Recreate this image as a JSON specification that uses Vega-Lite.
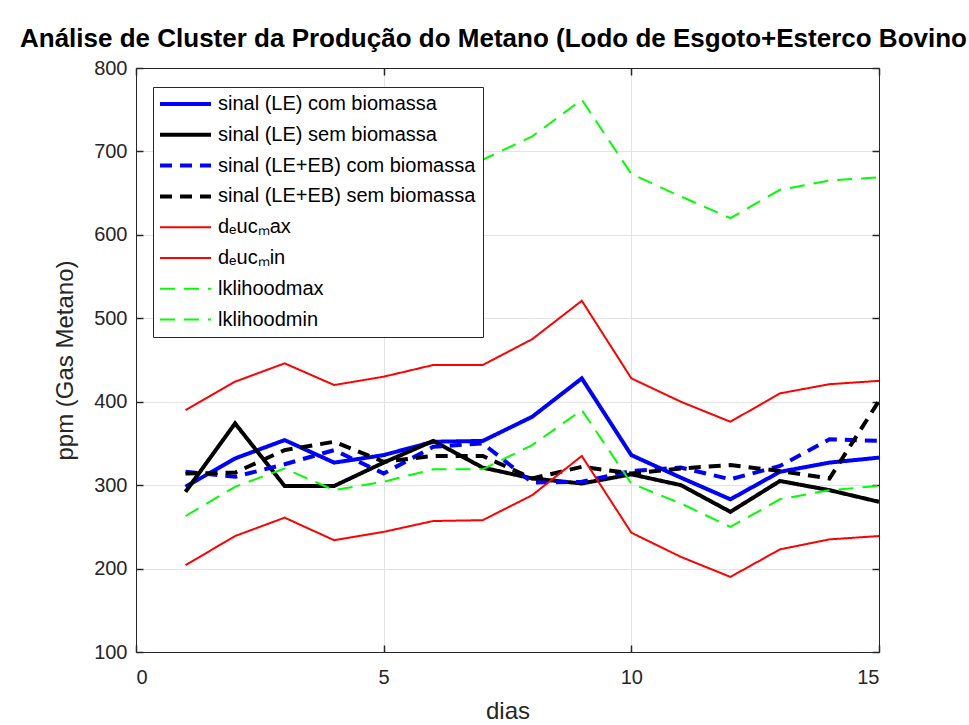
{
  "$schema": "https://vega.github.io/schema/vega-lite/v6.json",
  "width": 743,
  "height": 584,
  "autosize": {"type": "none"},
  "padding": {"left": 136, "top": 68, "right": 90, "bottom": 73},
  "background": "white",
  "title": {"text": "Análise de Cluster da Produção do Metano (Lodo de Esgoto+Esterco Bovino", "fontSize": 26, "font": "Liberation Sans", "fontWeight": "bold", "color": "black", "anchor": "start", "frame": "group", "dx": -116, "baseline": "alphabetic", "offset": 21, "dy": 36},
  "data": {"values": [
    {"dia":1,"serie":"sinal (LE) com biomassa","ppm":298},{"dia":2,"serie":"sinal (LE) com biomassa","ppm":332},{"dia":3,"serie":"sinal (LE) com biomassa","ppm":354},{"dia":4,"serie":"sinal (LE) com biomassa","ppm":327},{"dia":5,"serie":"sinal (LE) com biomassa","ppm":336},{"dia":6,"serie":"sinal (LE) com biomassa","ppm":352},{"dia":7,"serie":"sinal (LE) com biomassa","ppm":353},{"dia":8,"serie":"sinal (LE) com biomassa","ppm":382},{"dia":9,"serie":"sinal (LE) com biomassa","ppm":428},{"dia":10,"serie":"sinal (LE) com biomassa","ppm":336},{"dia":11,"serie":"sinal (LE) com biomassa","ppm":309},{"dia":12,"serie":"sinal (LE) com biomassa","ppm":283},{"dia":13,"serie":"sinal (LE) com biomassa","ppm":316},{"dia":14,"serie":"sinal (LE) com biomassa","ppm":327},{"dia":15,"serie":"sinal (LE) com biomassa","ppm":333},
    {"dia":1,"serie":"sinal (LE) sem biomassa","ppm":292},{"dia":2,"serie":"sinal (LE) sem biomassa","ppm":374},{"dia":3,"serie":"sinal (LE) sem biomassa","ppm":299},{"dia":4,"serie":"sinal (LE) sem biomassa","ppm":299},{"dia":5,"serie":"sinal (LE) sem biomassa","ppm":327},{"dia":6,"serie":"sinal (LE) sem biomassa","ppm":353},{"dia":7,"serie":"sinal (LE) sem biomassa","ppm":321},{"dia":8,"serie":"sinal (LE) sem biomassa","ppm":308},{"dia":9,"serie":"sinal (LE) sem biomassa","ppm":302},{"dia":10,"serie":"sinal (LE) sem biomassa","ppm":313},{"dia":11,"serie":"sinal (LE) sem biomassa","ppm":300},{"dia":12,"serie":"sinal (LE) sem biomassa","ppm":268},{"dia":13,"serie":"sinal (LE) sem biomassa","ppm":305},{"dia":14,"serie":"sinal (LE) sem biomassa","ppm":294},{"dia":15,"serie":"sinal (LE) sem biomassa","ppm":280},
    {"dia":1,"serie":"sinal (LE+EB) com biomassa","ppm":316},{"dia":2,"serie":"sinal (LE+EB) com biomassa","ppm":310},{"dia":3,"serie":"sinal (LE+EB) com biomassa","ppm":325},{"dia":4,"serie":"sinal (LE+EB) com biomassa","ppm":342},{"dia":5,"serie":"sinal (LE+EB) com biomassa","ppm":314},{"dia":6,"serie":"sinal (LE+EB) com biomassa","ppm":346},{"dia":7,"serie":"sinal (LE+EB) com biomassa","ppm":350},{"dia":8,"serie":"sinal (LE+EB) com biomassa","ppm":303},{"dia":9,"serie":"sinal (LE+EB) com biomassa","ppm":304},{"dia":10,"serie":"sinal (LE+EB) com biomassa","ppm":317},{"dia":11,"serie":"sinal (LE+EB) com biomassa","ppm":321},{"dia":12,"serie":"sinal (LE+EB) com biomassa","ppm":307},{"dia":13,"serie":"sinal (LE+EB) com biomassa","ppm":323},{"dia":14,"serie":"sinal (LE+EB) com biomassa","ppm":355},{"dia":15,"serie":"sinal (LE+EB) com biomassa","ppm":353},
    {"dia":1,"serie":"sinal (LE+EB) sem biomassa","ppm":314},{"dia":2,"serie":"sinal (LE+EB) sem biomassa","ppm":315},{"dia":3,"serie":"sinal (LE+EB) sem biomassa","ppm":342},{"dia":4,"serie":"sinal (LE+EB) sem biomassa","ppm":352},{"dia":5,"serie":"sinal (LE+EB) sem biomassa","ppm":328},{"dia":6,"serie":"sinal (LE+EB) sem biomassa","ppm":335},{"dia":7,"serie":"sinal (LE+EB) sem biomassa","ppm":335},{"dia":8,"serie":"sinal (LE+EB) sem biomassa","ppm":308},{"dia":9,"serie":"sinal (LE+EB) sem biomassa","ppm":322},{"dia":10,"serie":"sinal (LE+EB) sem biomassa","ppm":314},{"dia":11,"serie":"sinal (LE+EB) sem biomassa","ppm":320},{"dia":12,"serie":"sinal (LE+EB) sem biomassa","ppm":324},{"dia":13,"serie":"sinal (LE+EB) sem biomassa","ppm":317},{"dia":14,"serie":"sinal (LE+EB) sem biomassa","ppm":308},{"dia":15,"serie":"sinal (LE+EB) sem biomassa","ppm":401},
    {"dia":1,"serie":"dₑucₘax","ppm":390},{"dia":2,"serie":"dₑucₘax","ppm":424},{"dia":3,"serie":"dₑucₘax","ppm":446},{"dia":4,"serie":"dₑucₘax","ppm":420},{"dia":5,"serie":"dₑucₘax","ppm":430},{"dia":6,"serie":"dₑucₘax","ppm":444},{"dia":7,"serie":"dₑucₘax","ppm":444},{"dia":8,"serie":"dₑucₘax","ppm":475},{"dia":9,"serie":"dₑucₘax","ppm":521},{"dia":10,"serie":"dₑucₘax","ppm":428},{"dia":11,"serie":"dₑucₘax","ppm":400},{"dia":12,"serie":"dₑucₘax","ppm":376},{"dia":13,"serie":"dₑucₘax","ppm":410},{"dia":14,"serie":"dₑucₘax","ppm":421},{"dia":15,"serie":"dₑucₘax","ppm":425},
    {"dia":1,"serie":"dₑucₘin","ppm":204},{"dia":2,"serie":"dₑucₘin","ppm":239},{"dia":3,"serie":"dₑucₘin","ppm":261},{"dia":4,"serie":"dₑucₘin","ppm":234},{"dia":5,"serie":"dₑucₘin","ppm":244},{"dia":6,"serie":"dₑucₘin","ppm":257},{"dia":7,"serie":"dₑucₘin","ppm":258},{"dia":8,"serie":"dₑucₘin","ppm":288},{"dia":9,"serie":"dₑucₘin","ppm":335},{"dia":10,"serie":"dₑucₘin","ppm":243},{"dia":11,"serie":"dₑucₘin","ppm":214},{"dia":12,"serie":"dₑucₘin","ppm":190},{"dia":13,"serie":"dₑucₘin","ppm":223},{"dia":14,"serie":"dₑucₘin","ppm":235},{"dia":15,"serie":"dₑucₘin","ppm":239},
    {"dia":1,"serie":"lklihoodmax","ppm":634},{"dia":2,"serie":"lklihoodmax","ppm":668},{"dia":3,"serie":"lklihoodmax","ppm":690},{"dia":4,"serie":"lklihoodmax","ppm":664},{"dia":5,"serie":"lklihoodmax","ppm":675},{"dia":6,"serie":"lklihoodmax","ppm":688},{"dia":7,"serie":"lklihoodmax","ppm":690},{"dia":8,"serie":"lklihoodmax","ppm":718},{"dia":9,"serie":"lklihoodmax","ppm":762},{"dia":10,"serie":"lklihoodmax","ppm":673},{"dia":11,"serie":"lklihoodmax","ppm":646},{"dia":12,"serie":"lklihoodmax","ppm":620},{"dia":13,"serie":"lklihoodmax","ppm":654},{"dia":14,"serie":"lklihoodmax","ppm":665},{"dia":15,"serie":"lklihoodmax","ppm":669},
    {"dia":1,"serie":"lklihoodmin","ppm":263},{"dia":2,"serie":"lklihoodmin","ppm":298},{"dia":3,"serie":"lklihoodmin","ppm":320},{"dia":4,"serie":"lklihoodmin","ppm":294},{"dia":5,"serie":"lklihoodmin","ppm":304},{"dia":6,"serie":"lklihoodmin","ppm":319},{"dia":7,"serie":"lklihoodmin","ppm":319},{"dia":8,"serie":"lklihoodmin","ppm":348},{"dia":9,"serie":"lklihoodmin","ppm":390},{"dia":10,"serie":"lklihoodmin","ppm":302},{"dia":11,"serie":"lklihoodmin","ppm":278},{"dia":12,"serie":"lklihoodmin","ppm":250},{"dia":13,"serie":"lklihoodmin","ppm":283},{"dia":14,"serie":"lklihoodmin","ppm":294},{"dia":15,"serie":"lklihoodmin","ppm":299}
  ]},
  "config": {
    "view": {"stroke": "#262626", "strokeWidth": 1},
    "font": "Liberation Sans",
    "axis": {
      "domainColor": "#262626", "domainWidth": 1,
      "tickColor": "#262626", "tickWidth": 1.5, "tickSize": -7,
      "gridColor": "#e3e3e3", "gridWidth": 1,
      "labelFont": "Liberation Sans", "labelFontSize": 20, "labelColor": "#262626",
      "titleFont": "Liberation Sans", "titleFontSize": 24, "titleFontWeight": "normal", "titleColor": "#262626"
    },
    "legend": {
      "fillColor": "white", "strokeColor": "#262626", "strokeWidth": 1,
      "padding": 7, "rowPadding": 10.8, "clipHeight": 20,
      "symbolType": "stroke", "symbolSize": 2601, "symbolOffset": -2,
      "labelFont": "Liberation Sans", "labelFontSize": 20, "labelColor": "black",
      "labelOffset": 5, "labelLimit": 500
    }
  },
  "encoding": {
    "x": {"field": "dia", "type": "quantitative", "scale": {"domain": [0, 15], "nice": false, "zero": false}},
    "y": {"field": "ppm", "type": "quantitative", "scale": {"domain": [100, 800], "nice": false, "zero": false}},
    "color": {"field": "serie", "type": "nominal",
      "scale": {"domain": ["sinal (LE) com biomassa", "sinal (LE) sem biomassa", "sinal (LE+EB) com biomassa", "sinal (LE+EB) sem biomassa", "dₑucₘax", "dₑucₘin", "lklihoodmax", "lklihoodmin"],
                "range": ["#0000ff", "#000000", "#0000ff", "#000000", "#ff0000", "#ff0000", "#00ff00", "#00ff00"]},
      "legend": {"title": null, "orient": "none", "legendX": 17, "legendY": 19}},
    "strokeDash": {"field": "serie", "type": "nominal",
      "scale": {"domain": ["sinal (LE) com biomassa", "sinal (LE) sem biomassa", "sinal (LE+EB) com biomassa", "sinal (LE+EB) sem biomassa", "dₑucₘax", "dₑucₘin", "lklihoodmax", "lklihoodmin"],
                "range": [[1, 0], [1, 0], [12, 8], [12, 8], [1, 0], [1, 0], [15, 9], [15, 9]]},
      "legend": {"title": null, "orient": "none", "legendX": 17, "legendY": 19}},
    "strokeWidth": {"field": "serie", "type": "nominal",
      "scale": {"type": "ordinal", "domain": ["sinal (LE) com biomassa", "sinal (LE) sem biomassa", "sinal (LE+EB) com biomassa", "sinal (LE+EB) sem biomassa", "dₑucₘax", "dₑucₘin", "lklihoodmax", "lklihoodmin"],
                "range": [4, 4, 4, 4, 2, 2, 2, 2]},
      "legend": {"title": null, "orient": "none", "legendX": 17, "legendY": 19}}
  },
  "layer": [
    {
      "transform": [{"filter": {"field": "serie", "oneOf": ["sinal (LE) com biomassa", "sinal (LE) sem biomassa", "sinal (LE+EB) com biomassa", "sinal (LE+EB) sem biomassa"]}}],
      "mark": {"type": "line", "clip": true},
      "encoding": {
        "x": {"field": "dia", "type": "quantitative", "axis": {"orient": "bottom", "values": [0, 5, 10, 15], "title": "dias", "grid": true, "labelPadding": 22, "titlePadding": 12}},
        "y": {"field": "ppm", "type": "quantitative", "axis": {"orient": "left", "values": [100, 200, 300, 400, 500, 600, 700, 800], "title": "ppm (Gas Metano)", "grid": true, "labelPadding": 16, "titlePadding": 16}}
      }
    },
    {
      "transform": [{"filter": {"field": "serie", "oneOf": ["dₑucₘax", "dₑucₘin", "lklihoodmax", "lklihoodmin"]}}],
      "mark": {"type": "line", "clip": true},
      "encoding": {
        "x": {"field": "dia", "type": "quantitative", "axis": {"orient": "top", "values": [0, 5, 10, 15], "title": null, "labels": false, "grid": false}},
        "y": {"field": "ppm", "type": "quantitative", "axis": {"orient": "right", "values": [100, 200, 300, 400, 500, 600, 700, 800], "title": null, "labels": false, "grid": false}}
      }
    }
  ],
  "resolve": {"axis": {"x": "independent", "y": "independent"}}
}
